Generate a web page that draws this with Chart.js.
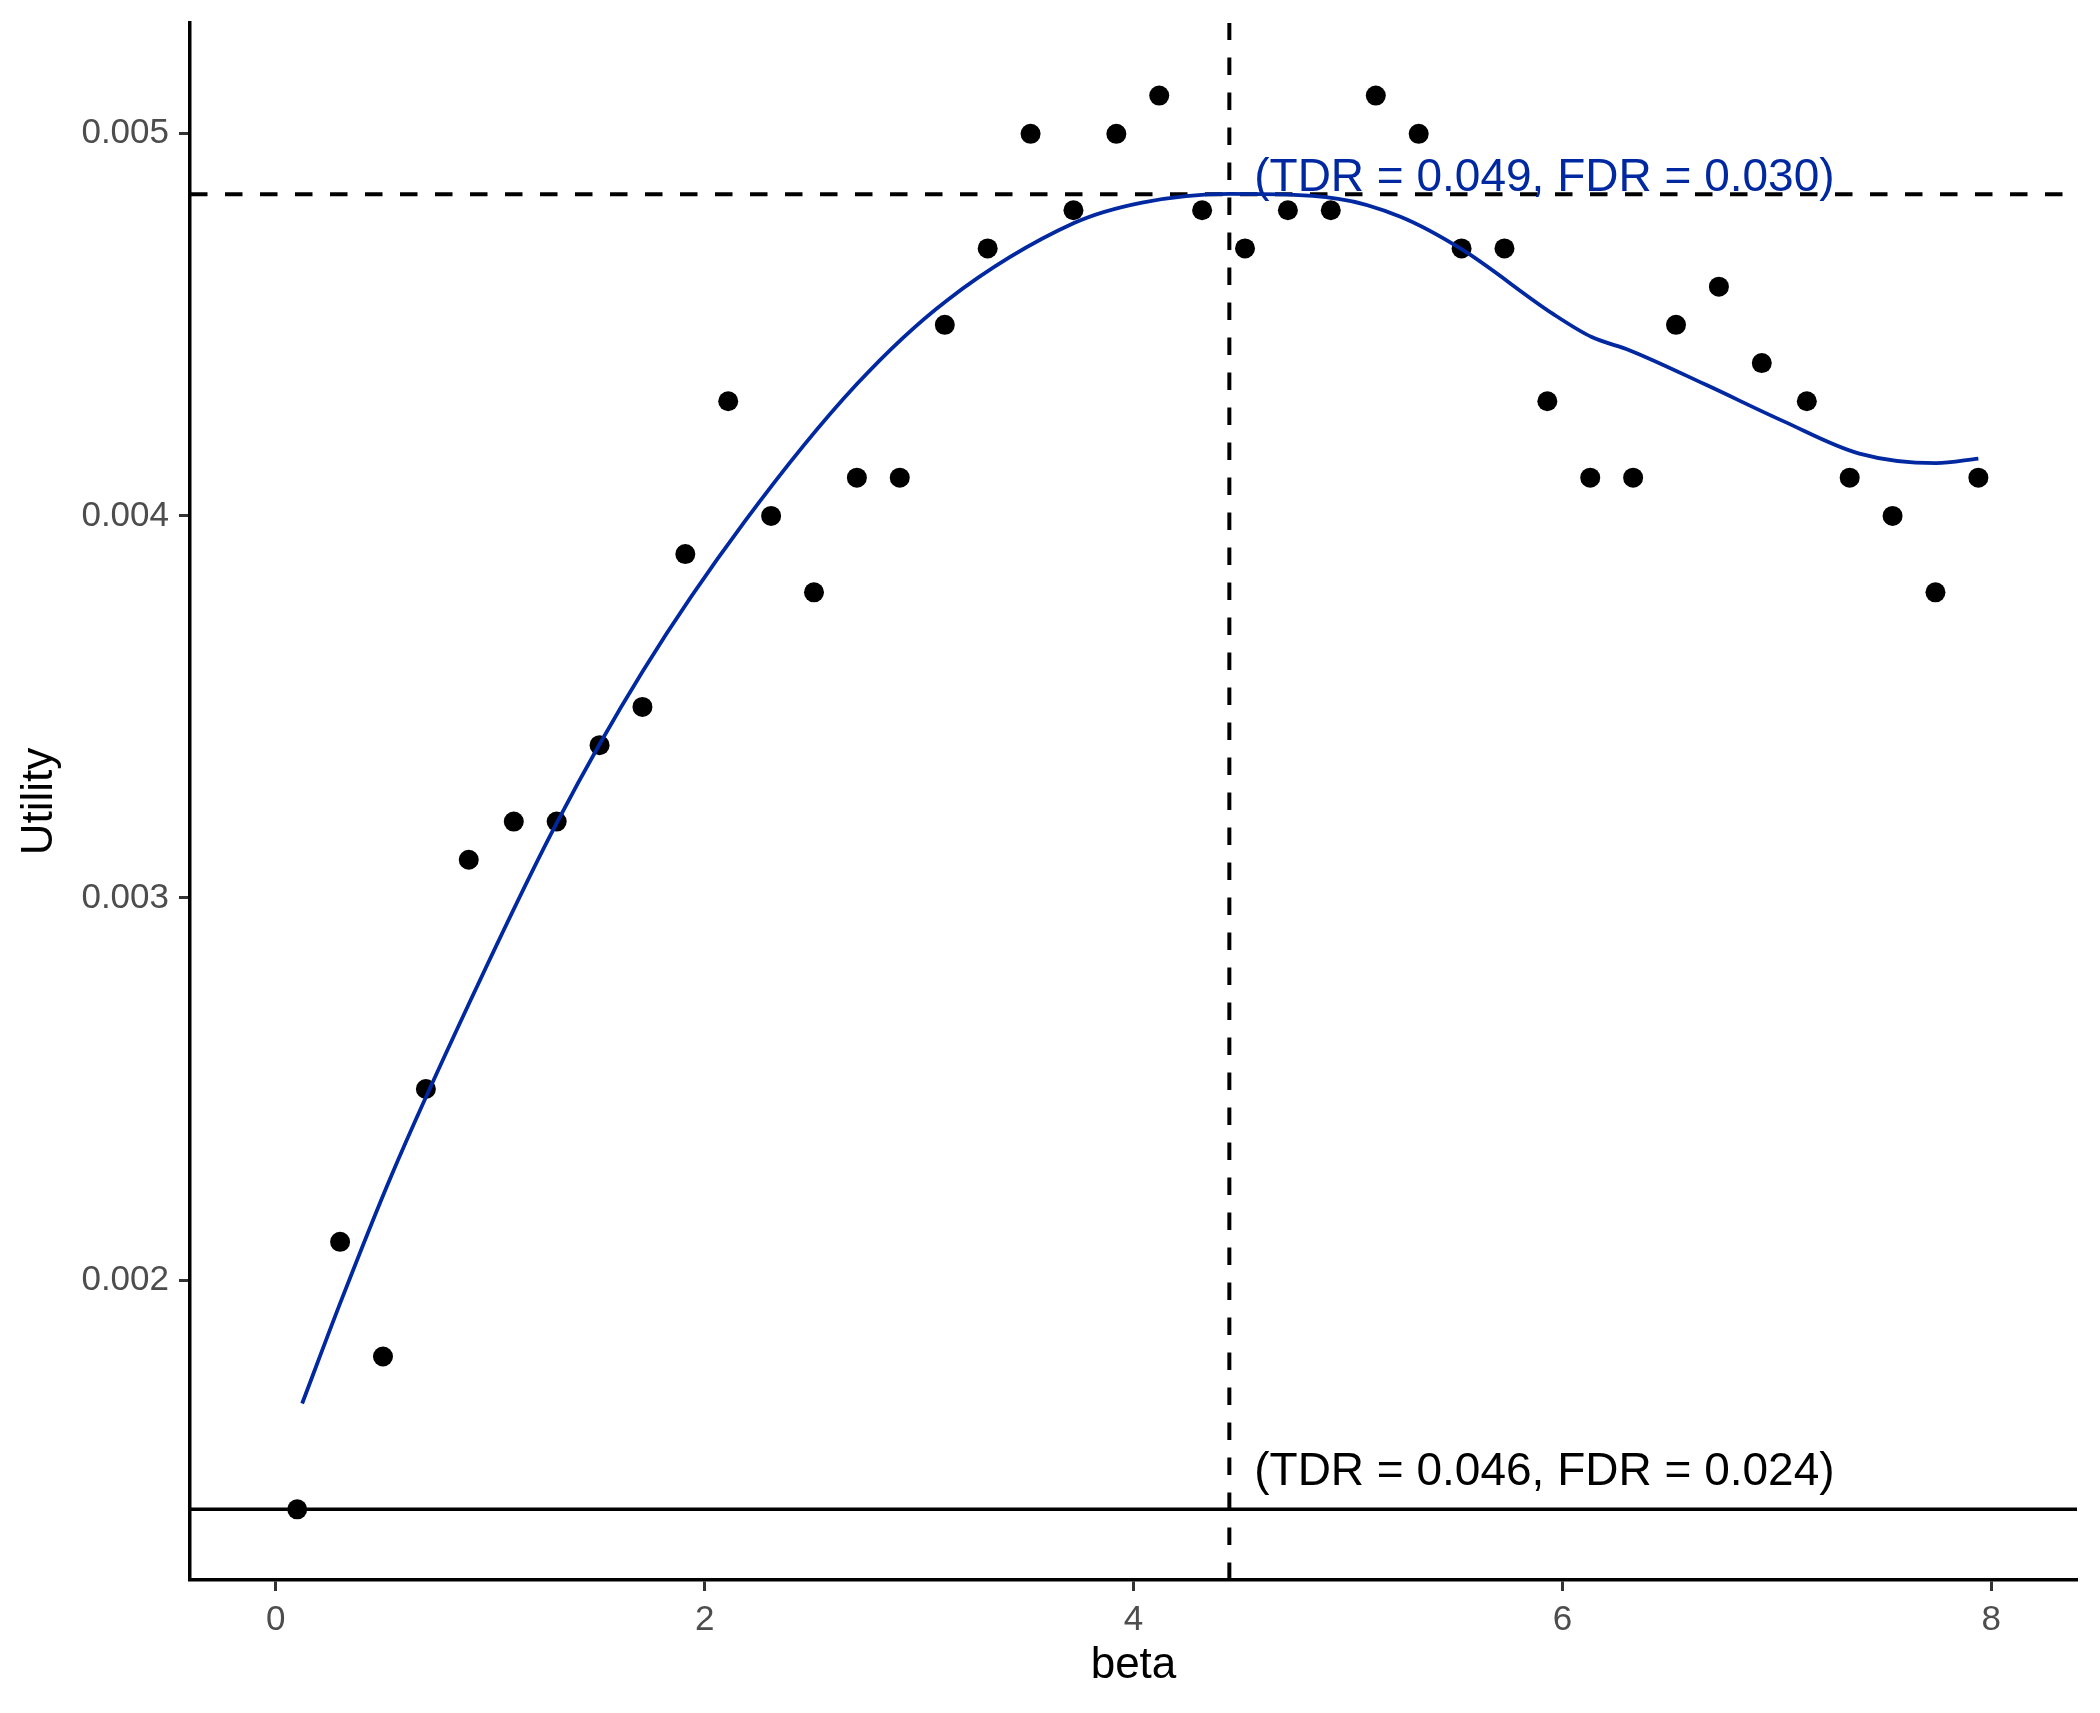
<!DOCTYPE html>
<html>
<head>
<meta charset="utf-8">
<title>Utility vs beta</title>
<script src="https://cdn.jsdelivr.net/npm/chart.js@4.4.1/dist/chart.umd.min.js"></script>
<style>
  html, body { margin: 0; padding: 0; background: #ffffff; }
  #wrap { width: 2100px; height: 1713px; }
</style>
</head>
<body>
<div id="wrap"><canvas id="utilityChart" width="2100" height="1713"></canvas></div>
<script>
// observed points
const beta = [0.10, 0.30, 0.50, 0.70, 0.90, 1.11, 1.31, 1.51, 1.71, 1.91,
              2.11, 2.31, 2.51, 2.71, 2.91, 3.12, 3.32, 3.52, 3.72, 3.92,
              4.12, 4.32, 4.52, 4.72, 4.92, 5.13, 5.33, 5.53, 5.73, 5.93,
              6.13, 6.33, 6.53, 6.73, 6.93, 7.14, 7.34, 7.54, 7.74, 7.94];
const utility = [0.0014, 0.0021, 0.0018, 0.0025, 0.0031, 0.0032, 0.0032, 0.0034, 0.0035, 0.0039,
                 0.0043, 0.0040, 0.0038, 0.0041, 0.0041, 0.0045, 0.0047, 0.0050, 0.0048, 0.0050,
                 0.0051, 0.0048, 0.0047, 0.0048, 0.0048, 0.0051, 0.0050, 0.0047, 0.0047, 0.0043,
                 0.0041, 0.0041, 0.0045, 0.0046, 0.0044, 0.0043, 0.0041, 0.0040, 0.0038, 0.0041];

// smoothed curve
const smoothBeta = [0.123, 0.309, 0.535, 0.904, 1.308, 1.712, 2.188, 2.710, 3.130, 3.725,
                    4.040, 4.450, 4.955, 5.245, 5.530, 5.958, 6.137, 6.315, 6.670, 7.030,
                    7.385, 7.743, 7.940];
const smoothUtility = [0.001677, 0.001952, 0.002268, 0.002727, 0.003194, 0.003594, 0.003986, 0.004345,
                       0.004564, 0.004767, 0.004820, 0.004843, 0.004830, 0.004783, 0.004698, 0.004528,
                       0.004468, 0.004433, 0.004343, 0.004248, 0.004163, 0.004138, 0.004150];

// axes
const xTicks = [0, 2, 4, 6, 8];
const yTicks = [0.002, 0.003, 0.004, 0.005];
const xRange = [-0.4, 8.4];
const yRange = [0.001215, 0.005290];

// reference lines + labels
const bestBeta = 4.447;
const bestUtility = 0.004842;
const baseUtility = 0.0014;
const labelBest = '(TDR = 0.049, FDR = 0.030)';
const labelBase = '(TDR = 0.046, FDR = 0.024)';
const labelBeta = 4.563;
const labelBestY = 0.004851;
const labelBaseY = 0.001463;

const BLUE = '#0028A0';
const FONT = "'Liberation Sans', Arial, Helvetica, sans-serif";

const refLines = {
    id: 'refLines',
    beforeDatasetsDraw(chart) {
        const { ctx, chartArea, scales } = chart;
        const x = scales.x, y = scales.y;
        ctx.save();
        ctx.strokeStyle = '#000000';
        ctx.lineWidth = 3.6;
        ctx.lineCap = 'butt';

        // solid baseline
        let py = y.getPixelForValue(baseUtility);
        ctx.beginPath();
        ctx.moveTo(chartArea.left, py);
        ctx.lineTo(chartArea.right, py);
        ctx.stroke();

        ctx.lineWidth = 4;
        ctx.setLineDash([17.5, 17.5]);
        // dashed best utility
        py = y.getPixelForValue(bestUtility);
        ctx.beginPath();
        ctx.moveTo(chartArea.left, py);
        ctx.lineTo(chartArea.right, py);
        ctx.stroke();

        // dashed best beta, drawn from the bottom up
        const px = x.getPixelForValue(bestBeta);
        ctx.beginPath();
        ctx.moveTo(px, chartArea.bottom);
        ctx.lineTo(px, chartArea.top);
        ctx.stroke();
        ctx.restore();
    },
    afterDatasetsDraw(chart) {
        const { ctx, scales } = chart;
        ctx.save();
        ctx.font = '46px ' + FONT;
        ctx.textAlign = 'left';
        ctx.textBaseline = 'alphabetic';
        ctx.fillStyle = BLUE;
        ctx.fillText(labelBest, scales.x.getPixelForValue(labelBeta), scales.y.getPixelForValue(labelBestY));
        ctx.fillStyle = '#000000';
        ctx.fillText(labelBase, scales.x.getPixelForValue(labelBeta), scales.y.getPixelForValue(labelBaseY));
        ctx.restore();
    }
};

Chart.defaults.font.family = FONT;

new Chart(document.getElementById('utilityChart').getContext('2d'), {
    type: 'scatter',
    data: {
        datasets: [
            {
                type: 'line',
                label: 'smooth',
                data: smoothBeta.map((b, i) => ({ x: b, y: smoothUtility[i] })),
                borderColor: BLUE,
                borderWidth: 3.8,
                pointRadius: 0,
                fill: false,
                cubicInterpolationMode: 'monotone',
                order: 0
            },
            {
                label: 'utility',
                data: beta.map((b, i) => ({ x: b, y: utility[i] })),
                backgroundColor: '#000000',
                borderWidth: 0,
                pointRadius: 10,
                order: 1
            }
        ]
    },
    options: {
        responsive: false,
        animation: false,
        layout: { padding: { top: 23, right: 23, left: 0, bottom: 0 } },
        plugins: { legend: { display: false }, tooltip: { enabled: false } },
        scales: {
            x: {
                type: 'linear',
                min: xRange[0],
                max: xRange[1],
                afterBuildTicks: s => { s.ticks = xTicks.map(v => ({ value: v })); },
                afterFit: s => { s.height = 133; s.paddingLeft = 0; s.paddingRight = 0; },
                grid: { drawOnChartArea: false, drawTicks: true, tickLength: 11, tickWidth: 3, tickColor: '#333333' },
                border: { display: true, color: '#000000', width: 3.5 },
                ticks: { color: '#4D4D4D', font: { size: 35 }, padding: 8, maxRotation: 0, callback: v => String(v) },
                title: { display: true, text: 'beta', color: '#000000', font: { size: 44 }, padding: { top: 0, bottom: 21 } }
            },
            y: {
                type: 'linear',
                min: yRange[0],
                max: yRange[1],
                afterBuildTicks: s => { s.ticks = yTicks.map(v => ({ value: v })); },
                afterFit: s => { s.width = 190; s.paddingTop = 0; s.paddingBottom = 0; },
                grid: { drawOnChartArea: false, drawTicks: true, tickLength: 11, tickWidth: 3, tickColor: '#333333' },
                border: { display: true, color: '#000000', width: 3.5 },
                ticks: { color: '#4D4D4D', font: { size: 35 }, padding: 10, callback: v => Number(v).toFixed(3) },
                title: { display: true, text: 'Utility', color: '#000000', font: { size: 44 }, padding: { top: 13, bottom: 0 } }
            }
        }
    },
    plugins: [refLines]
});
</script>
</body>
</html>
